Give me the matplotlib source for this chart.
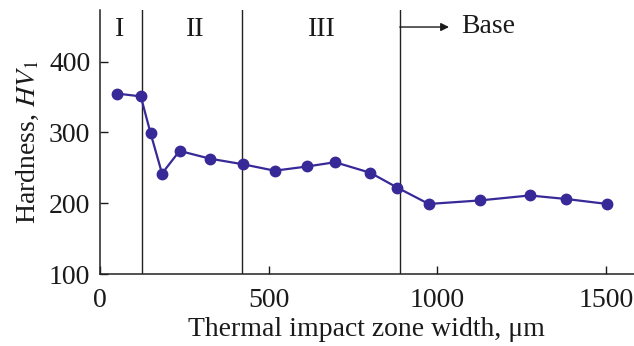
import matplotlib
matplotlib.use("Agg")
import matplotlib.pyplot as plt

width_um = [50, 121, 150, 184, 236, 326, 425, 518, 615, 697, 802, 882, 975, 1127, 1274, 1383, 1504]
hardness = [355, 351, 299, 242, 274, 263, 255, 246, 252, 258, 243, 222, 199, 204, 211, 206, 199]
boundaries = [124, 422, 889]
zone_labels = ["I", "II", "III"]
zone_label_x = [59, 282, 658]
x_ticks = [0, 500, 1000, 1500]
y_ticks = [100, 200, 300, 400]

plt.rcParams['font.family'] = ['Liberation Serif', 'DejaVu Serif']
plt.rcParams['mathtext.fontset'] = 'stix'

FS = 20
fig = plt.figure(figsize=(6.34, 3.46), dpi=100)
ax = fig.add_axes([0.1577, 0.208, 0.842, 0.763])

ax.plot(width_um, hardness, color='#372a98', lw=1.6, marker='o', ms=7.5,
        markerfacecolor='#372a98', markeredgecolor='#372a98', zorder=3)

for b in boundaries:
    ax.axvline(b, color='#222222', lw=1.0, zorder=2)

for lab, lx in zip(zone_labels, zone_label_x):
    ax.text(lx, 445, lab, ha='center', va='center', fontsize=FS, color='#1a1a1a')

ax.annotate('', xy=(1035, 449), xytext=(boundaries[2], 449),
            arrowprops=dict(arrowstyle='-|>', color='#1a1a1a', lw=1.0,
                            shrinkA=0, shrinkB=0, mutation_scale=12))
ax.text(1070, 450, 'Base', ha='left', va='center', fontsize=FS, color='#1a1a1a')

ax.set_xlim(0, 1583)
ax.set_ylim(100, 473)
ax.set_xticks(x_ticks)
ax.set_yticks(y_ticks)
ax.tick_params(direction='in', length=6, width=1.0, labelsize=FS, colors='#1a1a1a')
ax.tick_params(axis='x', pad=10)
ax.tick_params(axis='y', pad=7)
for s in ['top', 'right']:
    ax.spines[s].set_visible(False)
for s in ['left', 'bottom']:
    ax.spines[s].set_linewidth(1.1)
    ax.spines[s].set_color('#222222')

ax.set_xlabel('Thermal impact zone width, μm', fontsize=FS, color='#1a1a1a', labelpad=3)
ax.set_ylabel(r'Hardness, $\mathit{HV}_{\mathrm{1}}$', fontsize=FS, color='#1a1a1a', labelpad=6)

fig.savefig('out.png', dpi=100)
